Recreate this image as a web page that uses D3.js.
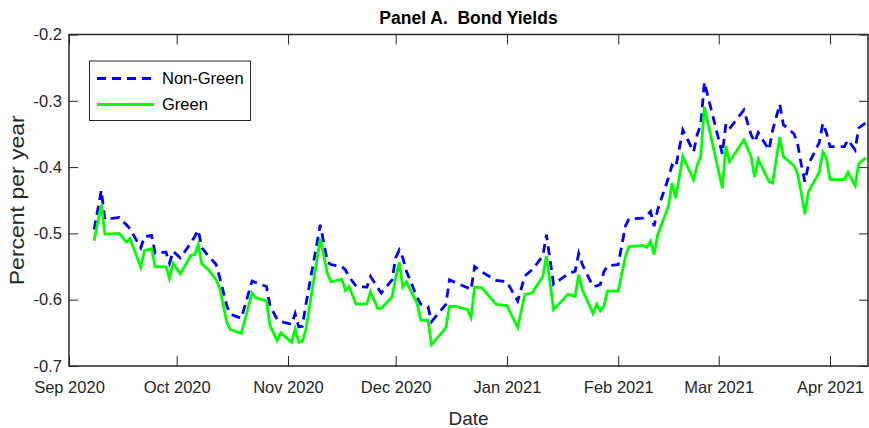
<!DOCTYPE html>
<html>
<head>
<meta charset="utf-8">
<script src="https://cdn.jsdelivr.net/npm/d3@7"></script>
<style>
  html, body { margin: 0; padding: 0; background: #fff; }
  svg { display: block; font-family: "Liberation Sans", Arial, Helvetica, sans-serif; }
</style>
</head>
<body>
<svg id="chart" width="869" height="428"></svg>
<script>
// Observation dates (trading days where the yield series change direction)
const dates = [
  "2020-09-08","2020-09-10","2020-09-11","2020-09-15","2020-09-17","2020-09-18","2020-09-21","2020-09-22",
  "2020-09-24","2020-09-25","2020-09-28","2020-09-29","2020-09-30","2020-10-02","2020-10-05","2020-10-06",
  "2020-10-07","2020-10-08","2020-10-10","2020-10-12","2020-10-13","2020-10-15","2020-10-16","2020-10-19",
  "2020-10-22","2020-10-23","2020-10-26","2020-10-27","2020-10-29","2020-10-30","2020-11-02","2020-11-03",
  "2020-11-04","2020-11-05","2020-11-06","2020-11-10","2020-11-12","2020-11-13","2020-11-16","2020-11-17",
  "2020-11-18","2020-11-20","2020-11-23","2020-11-24","2020-11-26","2020-11-27","2020-11-30","2020-12-01",
  "2020-12-02","2020-12-03","2020-12-04","2020-12-07","2020-12-08","2020-12-10","2020-12-11","2020-12-15",
  "2020-12-16","2020-12-18","2020-12-21","2020-12-22","2020-12-23","2020-12-25","2020-12-29","2021-01-01",
  "2021-01-04","2021-01-06","2021-01-08","2021-01-11","2021-01-12","2021-01-14","2021-01-18","2021-01-20",
  "2021-01-21","2021-01-22","2021-01-25","2021-01-26","2021-01-27","2021-01-28","2021-01-29","2021-02-01",
  "2021-02-03","2021-02-04","2021-02-08","2021-02-09","2021-02-10","2021-02-11","2021-02-12","2021-02-15",
  "2021-02-16","2021-02-17","2021-02-19","2021-02-22","2021-02-23","2021-02-24","2021-02-25","2021-03-02",
  "2021-03-03","2021-03-04","2021-03-08","2021-03-10","2021-03-11","2021-03-12","2021-03-15","2021-03-16",
  "2021-03-18","2021-03-19","2021-03-22","2021-03-23","2021-03-24","2021-03-25","2021-03-26","2021-03-29",
  "2021-03-30","2021-03-31","2021-04-01","2021-04-05","2021-04-06","2021-04-08","2021-04-09","2021-04-11"
];

// Yields, percent per year
const nonGreen = [
  -0.494,-0.435,-0.479,-0.476,-0.487,-0.493,-0.522,-0.505,
  -0.503,-0.530,-0.528,-0.545,-0.527,-0.537,-0.514,-0.505,
  -0.495,-0.522,-0.535,-0.547,-0.567,-0.610,-0.622,-0.628,
  -0.572,-0.574,-0.580,-0.609,-0.630,-0.633,-0.637,-0.621,
  -0.641,-0.640,-0.607,-0.487,-0.543,-0.547,-0.550,-0.555,
  -0.565,-0.580,-0.581,-0.565,-0.582,-0.590,-0.570,-0.537,
  -0.525,-0.537,-0.557,-0.597,-0.607,-0.610,-0.633,-0.607,
  -0.570,-0.575,-0.582,-0.585,-0.550,-0.558,-0.571,-0.573,
  -0.602,-0.564,-0.555,-0.534,-0.502,-0.577,-0.561,-0.557,
  -0.530,-0.547,-0.580,-0.579,-0.577,-0.558,-0.549,-0.547,
  -0.489,-0.478,-0.477,-0.473,-0.467,-0.489,-0.464,-0.416,
  -0.397,-0.401,-0.344,-0.377,-0.351,-0.336,-0.272,-0.380,
  -0.335,-0.342,-0.314,-0.351,-0.362,-0.348,-0.374,-0.345,
  -0.305,-0.336,-0.350,-0.366,-0.396,-0.422,-0.396,-0.363,
  -0.334,-0.348,-0.369,-0.369,-0.359,-0.374,-0.341,-0.333
];

const green = [
  -0.511,-0.457,-0.501,-0.500,-0.513,-0.508,-0.551,-0.526,
  -0.523,-0.550,-0.550,-0.568,-0.545,-0.561,-0.533,-0.532,
  -0.517,-0.546,-0.556,-0.570,-0.583,-0.635,-0.645,-0.651,
  -0.590,-0.597,-0.602,-0.639,-0.662,-0.650,-0.664,-0.644,
  -0.664,-0.663,-0.645,-0.508,-0.561,-0.573,-0.569,-0.586,
  -0.580,-0.607,-0.606,-0.588,-0.613,-0.613,-0.596,-0.567,
  -0.544,-0.581,-0.573,-0.606,-0.631,-0.631,-0.668,-0.642,
  -0.610,-0.610,-0.615,-0.627,-0.581,-0.582,-0.607,-0.609,
  -0.642,-0.592,-0.590,-0.565,-0.534,-0.615,-0.592,-0.595,
  -0.562,-0.585,-0.621,-0.607,-0.617,-0.610,-0.587,-0.587,
  -0.535,-0.520,-0.518,-0.521,-0.512,-0.532,-0.502,-0.459,
  -0.424,-0.447,-0.384,-0.419,-0.397,-0.384,-0.309,-0.432,
  -0.368,-0.392,-0.359,-0.384,-0.415,-0.388,-0.422,-0.424,
  -0.355,-0.384,-0.398,-0.411,-0.439,-0.471,-0.437,-0.408,
  -0.377,-0.386,-0.419,-0.419,-0.408,-0.428,-0.395,-0.386
];

const yTicks = [-0.7, -0.6, -0.5, -0.4, -0.3, -0.2];
const xTickMonths = ["2020-09-01","2020-10-01","2020-11-01","2020-12-01","2021-01-01","2021-02-01","2021-03-01","2021-04-01"];
const seriesNames = ["Non-Green", "Green"];

const parse = d3.timeParse("%Y-%m-%d");
const svg = d3.select("#chart");
const margin = { left: 69, right: 1, top: 34.5, bottom: 62 };
const W = 869, H = 428;
const plotW = W - margin.left - margin.right;
const plotH = H - margin.top - margin.bottom;

const x = d3.scaleTime()
  .domain([new Date(2020, 8, 1), new Date(2021, 3, 11, 14)])
  .range([margin.left, margin.left + plotW]);
const y = d3.scaleLinear()
  .domain([-0.7, -0.2])
  .range([margin.top + plotH, margin.top]);

const axisColor = "#262626";

// clip for the data lines
svg.append("defs").append("clipPath").attr("id", "plotClip")
  .append("rect")
  .attr("x", margin.left).attr("y", margin.top)
  .attr("width", plotW).attr("height", plotH);

const rows = dates.map((d, i) => ({ date: parse(d), ng: nonGreen[i], g: green[i] }));

const line = key => d3.line().x(d => x(d.date)).y(d => y(d[key]));

const lines = svg.append("g").attr("clip-path", "url(#plotClip)");
lines.append("path")
  .datum(rows)
  .attr("fill", "none")
  .attr("stroke", "#0000ff")
  .attr("stroke-width", 2.8)
  .attr("stroke-dasharray", "9,6")
  .attr("d", line("ng"));
lines.append("path")
  .datum(rows)
  .attr("fill", "none")
  .attr("stroke", "#00ff00")
  .attr("stroke-width", 2.8)
  .attr("d", line("g"));

// axes with inward ticks on all four sides
const xTickDates = xTickMonths.map(parse);
const fmt = d3.timeFormat("%b %Y");

const gx = svg.append("g")
  .attr("transform", `translate(0,${margin.top + plotH})`)
  .call(d3.axisBottom(x).tickValues(xTickDates).tickFormat(fmt).tickSize(-10).tickSizeOuter(0).tickPadding(15));
const gxTop = svg.append("g")
  .attr("transform", `translate(0,${margin.top})`)
  .call(d3.axisTop(x).tickValues(xTickDates).tickFormat("").tickSize(-10).tickSizeOuter(0));
const gy = svg.append("g")
  .attr("transform", `translate(${margin.left},0)`)
  .call(d3.axisLeft(y).tickValues(yTicks).tickFormat(d3.format(".1f")).tickSize(-9).tickSizeOuter(0).tickPadding(7));
const gyRight = svg.append("g")
  .attr("transform", `translate(${margin.left + plotW},0)`)
  .call(d3.axisRight(y).tickValues(yTicks).tickFormat("").tickSize(-9).tickSizeOuter(0));

[gx, gxTop, gy, gyRight].forEach(g => {
  g.select(".domain").remove();
  g.selectAll(".tick line").attr("stroke", axisColor).attr("stroke-width", 1);
  g.selectAll(".tick text").attr("fill", axisColor).attr("font-size", 16.5)
    .attr("font-family", "'Liberation Sans', Arial, sans-serif");
});
gy.selectAll(".tick text").text(d => d3.format(".1f")(d).replace("−", "-"));

// plot box
svg.append("rect")
  .attr("x", margin.left).attr("y", margin.top)
  .attr("width", plotW).attr("height", plotH)
  .attr("fill", "none").attr("stroke", axisColor).attr("stroke-width", 1.5);

// title and axis labels
svg.append("text")
  .attr("x", margin.left + plotW / 2).attr("y", 24)
  .attr("text-anchor", "middle")
  .attr("font-size", 17.5).attr("font-weight", "bold").attr("fill", "#000")
  .style("white-space", "pre")
  .text("Panel A.  Bond Yields");

svg.append("text")
  .attr("x", margin.left + plotW / 2).attr("y", 425)
  .attr("text-anchor", "middle")
  .attr("font-size", 19).attr("fill", axisColor)
  .text("Date");

svg.append("text")
  .attr("transform", `translate(24,${margin.top + plotH / 2}) rotate(-90)`)
  .attr("text-anchor", "middle")
  .attr("font-size", 20).attr("fill", axisColor)
  .attr("textLength", 170).attr("lengthAdjust", "spacingAndGlyphs")
  .text("Percent per year");

// legend
const legend = svg.append("g");
legend.append("rect")
  .attr("x", 89.5).attr("y", 61).attr("width", 161).attr("height", 59.5)
  .attr("fill", "#fff").attr("stroke", axisColor).attr("stroke-width", 1);
const legendStyles = [
  { color: "#0000ff", dash: "9,6", y: 78.5 },
  { color: "#00ff00", dash: null, y: 104.5 }
];
seriesNames.forEach((name, i) => {
  const s = legendStyles[i];
  legend.append("line")
    .attr("x1", 97).attr("x2", 154).attr("y1", s.y).attr("y2", s.y)
    .attr("stroke", s.color).attr("stroke-width", 2.8)
    .attr("stroke-dasharray", s.dash);
  legend.append("text")
    .attr("x", 162).attr("y", s.y).attr("dy", "0.35em")
    .attr("font-size", 16.5).attr("fill", "#000")
    .text(name);
});
</script>
</body>
</html>
